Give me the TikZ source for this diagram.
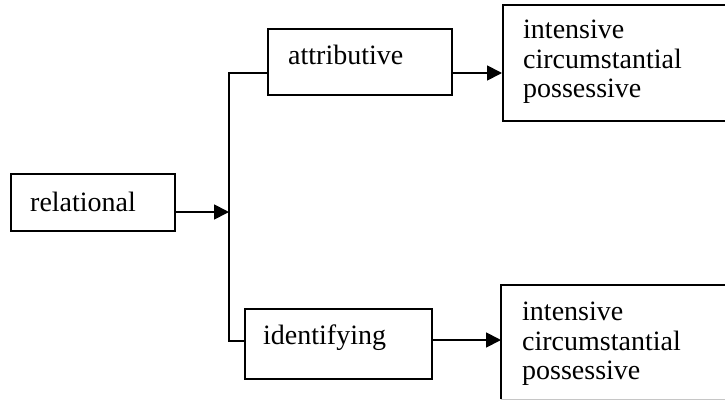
\documentclass[tikz,border=0pt]{standalone}
\usepackage{fontspec}
\setmainfont{Liberation Serif}
\usetikzlibrary{arrows.meta}
\begin{document}
\begin{tikzpicture}[x=1pt,y=-1pt,
  frame/.style={draw, line width=1.8pt, inner sep=0pt, anchor=north west},
  lbl/.style={anchor=base west, inner sep=0pt, font=\fontsize{28}{30}\selectfont},
  link/.style={line width=1.8pt},
  arr/.style={link, -{Triangle[length=15pt,width=15pt]}}]
\useasboundingbox (0,0) rectangle (725,401);
\clip (0,0) rectangle (725,401);

% boxes
\node[frame, minimum width=164pt, minimum height=57pt] (rel) at (10,173) {};
\node[frame, minimum width=184pt, minimum height=66pt] (attr) at (267,28) {};
\node[frame, minimum width=187pt, minimum height=70pt] (ident) at (244,308) {};
\node[frame, minimum width=240pt, minimum height=116pt] (attrlist) at (502,4) {};
\node[inner sep=0pt, anchor=north west, minimum width=240pt, minimum height=114pt] (identlist) at (501,285) {};
\draw[link] (identlist.south west) -- (identlist.north west) -- (identlist.north east);
\draw[gray!45, line width=0.8pt] (identlist.south west) -- (identlist.south east);

% labels
\node[lbl] at (30,211) {relational};
\node[lbl] at (288,65) {attributive};
\node[lbl] at (263,344) {identifying};
\node[lbl] at (523,39) {intensive};
\node[lbl] at (523,69) {circumstantial};
\node[lbl] at (523,98) {possessive};
\node[lbl] at (522,320) {intensive};
\node[lbl] at (522,350) {circumstantial};
\node[lbl] at (522,379) {possessive};

% connectors
\coordinate (jr) at (229,212);
\coordinate (jt) at (229,73);
\coordinate (jb) at (229,341);
\draw[arr] (rel.east |- jr) -- (jr);
\draw[link] (attr.west |- jt) -- (jt) -- (jb) -- (ident.west |- jb);
\draw[arr] (attr.east |- jt) -- (attrlist.west |- jt);
\draw[arr] (ident.east |- 0,340) -- (identlist.west |- 0,340);
\end{tikzpicture}
\end{document}
